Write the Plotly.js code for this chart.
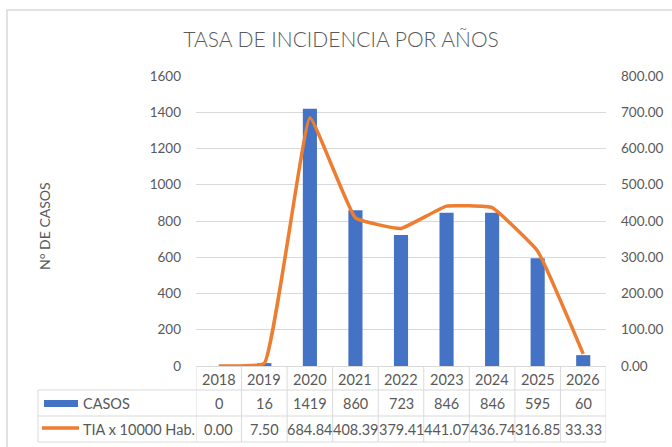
<!DOCTYPE html>
<html>
<head>
<meta charset="utf-8">
<script src="https://cdn.plot.ly/plotly-3.0.1.min.js"></script>
<style>html,body{margin:0;padding:0;background:#fff;}#chart{width:672px;height:447px;}</style>
</head>
<body>
<div id="chart"></div>
<script>
const years = ["2018","2019","2020","2021","2022","2023","2024","2025","2026"];
const casos = [0, 16, 1419, 860, 723, 846, 846, 595, 60];
const tia = [0.00, 7.50, 684.84, 408.39, 379.41, 441.07, 436.74, 316.85, 33.33];
const seriesNames = ["CASOS", "TIA x 10000 Hab."];
const yTitle = "N° DE CASOS";
const chartTitle = "TASA DE INCIDENCIA POR AÑOS";

const W = 672, H = 447;
const L = 196, R = 606, T = 76, B = 366;
const px2x = p => (p - L) / (R - L);
const py2y = p => (B - p) / (B - T);
const FONT = "Lato, 'Open Sans', sans-serif";
const TXT = "#595959";
const GRID = "#D9D9D9";

const traces = [
  {type: "bar", x: years, y: casos, name: seriesNames[0], marker: {color: "#4472C4"}, width: 0.31, yaxis: "y"},
  {type: "scatter", mode: "lines", x: years, y: tia, name: seriesNames[1], yaxis: "y2",
   line: {color: "#ED7D31", width: 3.5, shape: "spline", smoothing: 0.3}}
];

const annotations = [];
const rowY = [379, 403, 429];
const cellFont = {family: FONT, size: 14.5, color: TXT};
years.forEach((yr, i) => {
  const base = {xref: "x", yref: "paper", x: i, showarrow: false, xanchor: "center", yanchor: "middle", font: cellFont};
  annotations.push(Object.assign({}, base, {y: py2y(rowY[0]), text: yr}));
  annotations.push(Object.assign({}, base, {y: py2y(rowY[1]), text: String(casos[i])}));
  annotations.push(Object.assign({}, base, {y: py2y(rowY[2]), text: tia[i].toFixed(2)}));
});
annotations.push({xref: "paper", yref: "paper", x: px2x(81), y: py2y(rowY[1]), xanchor: "left", yanchor: "middle", text: seriesNames[0], showarrow: false, font: cellFont});
annotations.push({xref: "paper", yref: "paper", x: px2x(81), y: py2y(rowY[2]), xanchor: "left", yanchor: "middle", text: seriesNames[1], showarrow: false, font: cellFont});
annotations.push({xref: "paper", yref: "paper", x: px2x(45), y: py2y(226), xanchor: "center", yanchor: "middle", textangle: -90, text: yTitle, showarrow: false, font: {family: FONT, size: 14, color: TXT}});

const shapes = [];
const ln = (x0, y0, x1, y1) => ({type: "line", xref: "paper", yref: "paper", x0: px2x(x0), y0: py2y(y0), x1: px2x(x1), y1: py2y(y1), line: {color: GRID, width: 1}});
shapes.push({type: "rect", xref: "paper", yref: "paper", x0: px2x(7), y0: py2y(10), x1: px2x(720), y1: py2y(480), line: {color: GRID, width: 1.5}, fillcolor: "rgba(0,0,0,0)"});
shapes.push(ln(38, 390, R, 390));
shapes.push(ln(38, 416, R, 416));
shapes.push(ln(38, 442, R, 442));
for (let i = 0; i <= years.length; i++) {
  shapes.push({type: "line", xref: "x", yref: "paper", x0: i - 0.5, x1: i - 0.5, y0: py2y(366), y1: py2y(442), line: {color: GRID, width: 1}});
}
shapes.push(ln(38, 390, 38, 442));
shapes.push({type: "rect", xref: "paper", yref: "paper", x0: px2x(44), x1: px2x(78), y0: py2y(400), y1: py2y(407), fillcolor: "#4472C4", line: {width: 0}});
shapes.push({type: "line", xref: "paper", yref: "paper", x0: px2x(42), x1: px2x(79), y0: py2y(428), y1: py2y(428), line: {color: "#ED7D31", width: 3.5}});

const layout = {
  width: W, height: H,
  margin: {l: L, r: W - R, t: T, b: H - B, pad: 0},
  paper_bgcolor: "#fff", plot_bgcolor: "#fff",
  showlegend: false,
  title: {text: chartTitle, font: {family: FONT, size: 21, color: TXT, weight: 300}, x: 341 / W, xref: "container", xanchor: "center", y: 1 - 40 / H, yref: "container", yanchor: "middle"},
  xaxis: {type: "category", range: [-0.5, 8.5], showticklabels: false, ticks: "", showgrid: false, zeroline: false, showline: true, linecolor: GRID, linewidth: 1},
  yaxis: {range: [0, 1600], dtick: 200, tickfont: {family: FONT, size: 13.5, color: TXT}, gridcolor: GRID, gridwidth: 1, zeroline: false, showline: false, ticks: "", ticklabelstandoff: 14},
  yaxis2: {range: [0, 800], dtick: 100, tickformat: ".2f", overlaying: "y", side: "right", showgrid: false, zeroline: false, showline: false, ticks: "", tickfont: {family: FONT, size: 13.5, color: TXT}, ticklabelstandoff: 14},
  annotations: annotations,
  shapes: shapes,
  font: {family: FONT}
};

Plotly.newPlot("chart", traces, layout, {displayModeBar: false, staticPlot: true});
</script>
</body>
</html>
